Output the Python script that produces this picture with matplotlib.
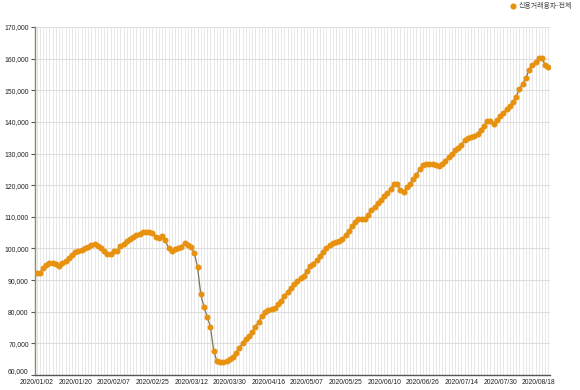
import numpy as np
import pandas as pd
import matplotlib
matplotlib.use('Agg')
import matplotlib.pyplot as plt
from matplotlib.ticker import FuncFormatter

# Trading days (KRX), 2020/01/02 - 2020/08/21.
holidays = ['2020-01-24', '2020-01-27', '2020-04-15', '2020-04-30',
            '2020-05-01', '2020-05-05', '2020-08-17']
dates = pd.bdate_range('2020-01-02', '2020-08-21', freq='C', holidays=holidays)
date_labels = [d.strftime('%Y/%m/%d') for d in dates]

# Credit loans outstanding.
values = [
    92200, 92300, 93700, 94800, 95300, 95400, 95100, 94500, 95400, 96000,
    96900, 97800, 98800, 99200, 99600, 100200, 100500, 101000, 101300, 100900,
    100100, 99100, 98400, 98300, 99200, 99200, 100700, 101500, 102300, 103000,
    103600, 104100, 104600, 105100, 105300, 105200, 104800, 103500, 103200, 103900,
    102600, 100000, 99300, 99800, 100200, 100600, 101700, 101200, 100400, 98600,
    94100, 85500, 81500, 78300, 75300, 67700, 64400, 64100, 64200, 64400,
    65000, 65800, 66900, 68600, 70100, 71400, 72400, 73600, 75200, 76900,
    78500, 79900, 80400, 80900, 81100, 82400, 83500, 84900, 86300, 87600,
    88900, 89700, 90600, 91400, 93000, 94300, 95200, 96300, 97600, 98900,
    100000, 101000, 101700, 102000, 102200, 102900, 104300, 105600, 107000, 108300,
    109300, 109300, 109400, 110700, 112200, 113100, 114300, 115300, 116600, 117600,
    118800, 120500, 120300, 118500, 117800, 119300, 120500, 121800, 123300, 125000,
    126400, 126800, 126700, 126800, 126500, 126000, 126600, 127800, 128800, 129800,
    131000, 131900, 132700, 134300, 135000, 135300, 135600, 136300, 137600, 138700,
    140300, 140200, 139400, 140500, 141800, 142900, 144000, 145000, 146200, 148000,
    150400, 152000, 153800, 156500, 158000, 158800, 160200, 160200, 158000, 157500,
]
series_name = '신용거래융자-전체'

y_min, y_max, y_step = 60000, 170000, 10000
label_every = 12

fig = plt.figure(figsize=(5.8, 3.9), dpi=100)
ax = fig.add_axes([35 / 580, 15 / 390, 515 / 580, 348 / 390])

x = np.arange(len(values))
ax.plot(x, values, color='#7a7356', lw=0.9, zorder=3)
ax.plot(x, values, ls='none', marker='o', ms=3.3, mfc='#e8910e', mec='#e8910e',
        zorder=4)

ax.set_xlim(-0.5, len(values) - 0.5)
ax.set_ylim(y_min, y_max)

# vertical grid at every category, horizontal at each y tick
for xi in x:
    ax.axvline(xi, color='#e3e3e3', lw=0.6, zorder=1)
ax.set_yticks(np.arange(y_min, y_max + 1, y_step))
ax.yaxis.grid(True, color='#dcdcdc', lw=0.8, zorder=1)
ax.set_axisbelow(True)

ticks = x[::label_every]
ax.set_xticks(ticks)
ax.set_xticklabels([date_labels[i] for i in ticks])
ax.yaxis.set_major_formatter(FuncFormatter(lambda v, p: f'{int(v):,}'))

for lab in ax.get_xticklabels() + ax.get_yticklabels():
    lab.set_fontfamily('Liberation Sans')
    lab.set_fontsize(4.9)
    lab.set_color('#222222')
ax.tick_params(axis='x', length=0, pad=3)
ax.tick_params(axis='y', length=3, width=0.8, color='#555555', pad=1.5)
# keep the lowest y label clear of the first date label
ax.get_yticklabels()[0].set_verticalalignment('bottom')

for s in ('top', 'right'):
    ax.spines[s].set_visible(False)
ax.spines['left'].set_color('#8a8a70')
ax.spines['left'].set_linewidth(1.0)
ax.spines['bottom'].set_color('#555555')
ax.spines['bottom'].set_linewidth(1.0)

# legend, top right
fig.lines.append(plt.Line2D([513 / 580], [1 - 6 / 390], transform=fig.transFigure,
                            marker='o', ms=3.4, color='#e8910e', ls='none'))
fig.text(519 / 580, 1 - 6 / 390, series_name, fontsize=5,
         family=['Noto Sans CJK KR', 'DejaVu Sans'], color='#444444',
         va='center', ha='left')

fig.savefig('out.png', dpi=100)
